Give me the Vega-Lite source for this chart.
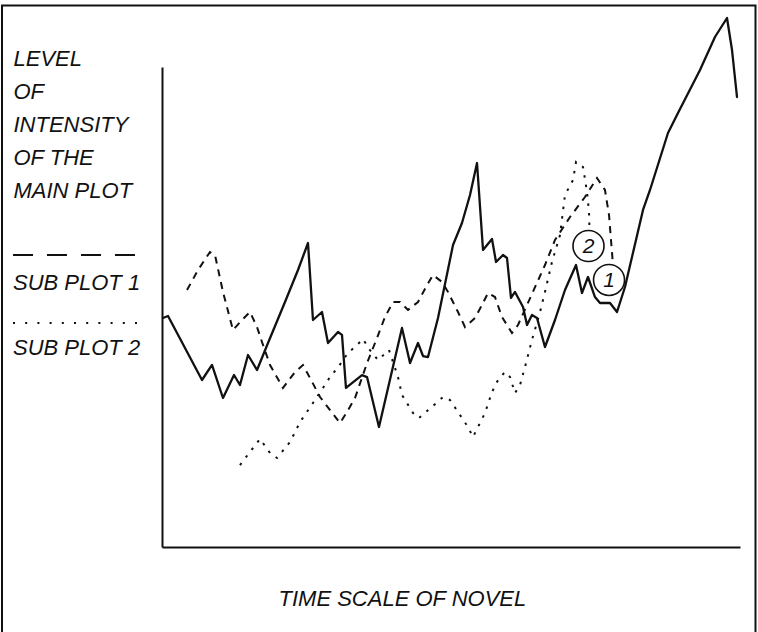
{
  "$schema": "https://vega.github.io/schema/vega-lite/v6.json",
  "width": 578,
  "height": 480,
  "autosize": "none",
  "padding": {"left": 162, "top": 67, "right": 18, "bottom": 85},
  "background": "white",
  "config": {
    "view": {"stroke": null},
    "font": "Liberation Sans",
    "axis": {
      "domainColor": "#111",
      "domainWidth": 2,
      "ticks": false,
      "labels": false,
      "grid": false,
      "titleFont": "Liberation Sans",
      "titleFontStyle": "italic",
      "titleFontWeight": "normal",
      "titleFontSize": 22,
      "titleColor": "#111",
      "titleLimit": 1000
    },
    "axisX": {"titleX": 116, "titleY": 58, "titleAlign": "left", "titleBaseline": "alphabetic", "titleAngle": 0},
    "axisY": {"titleX": -149, "titleY": -2, "titleAlign": "left", "titleBaseline": "alphabetic", "titleAngle": 0, "titleLineHeight": 33}
  },
  "datasets": {
    "main": [
      {"t": 0.17, "v": 47.71}, {"t": 1.04, "v": 48.13}, {"t": 6.92, "v": 34.79}, {"t": 8.65, "v": 37.92},
      {"t": 10.55, "v": 31.04}, {"t": 12.46, "v": 35.83}, {"t": 13.49, "v": 33.75}, {"t": 14.88, "v": 40.0},
      {"t": 16.44, "v": 36.88}, {"t": 18.34, "v": 42.5}, {"t": 21.28, "v": 51.04}, {"t": 23.53, "v": 57.71},
      {"t": 25.26, "v": 63.33}, {"t": 26.12, "v": 47.29}, {"t": 27.68, "v": 48.96}, {"t": 28.72, "v": 42.5},
      {"t": 30.45, "v": 44.79}, {"t": 31.14, "v": 44.2}, {"t": 31.83, "v": 33.13}, {"t": 34.6, "v": 35.8}, {"t": 35.47, "v": 35.4},
      {"t": 37.54, "v": 25.0}, {"t": 41.52, "v": 45.63}, {"t": 42.91, "v": 38.33}, {"t": 44.29, "v": 42.5},
      {"t": 45.16, "v": 39.79}, {"t": 46.02, "v": 39.58}, {"t": 47.75, "v": 47.71}, {"t": 50.35, "v": 62.92},
      {"t": 51.9, "v": 67.5}, {"t": 53.29, "v": 73.33}, {"t": 54.5, "v": 80.0}, {"t": 55.54, "v": 61.88},
      {"t": 57.09, "v": 64.17}, {"t": 57.79, "v": 59.38}, {"t": 59.0, "v": 60.83}, {"t": 59.69, "v": 60.21},
      {"t": 60.38, "v": 51.88}, {"t": 61.07, "v": 53.13}, {"t": 62.46, "v": 50.0}, {"t": 63.15, "v": 46.25},
      {"t": 64.01, "v": 48.33}, {"t": 64.88, "v": 47.71}, {"t": 66.26, "v": 41.67}, {"t": 67.99, "v": 47.29},
      {"t": 69.72, "v": 53.54}, {"t": 71.63, "v": 58.75}, {"t": 72.66, "v": 52.92}, {"t": 73.7, "v": 56.25},
      {"t": 74.91, "v": 52.08}, {"t": 75.78, "v": 50.83}, {"t": 77.51, "v": 50.83}, {"t": 78.72, "v": 48.96},
      {"t": 80.1, "v": 54.17}, {"t": 83.22, "v": 70.21}, {"t": 84.43, "v": 74.38}, {"t": 87.54, "v": 86.25},
      {"t": 89.27, "v": 90.42}, {"t": 93.08, "v": 99.38}, {"t": 95.67, "v": 106.25}, {"t": 97.75, "v": 110.21},
      {"t": 98.62, "v": 103.54}, {"t": 99.48, "v": 93.75}
    ],
    "sub1": [
      {"t": 4.33, "v": 53.54}, {"t": 6.23, "v": 57.71}, {"t": 8.3, "v": 61.46}, {"t": 9.17, "v": 60.83},
      {"t": 10.55, "v": 53.13}, {"t": 12.28, "v": 45.21}, {"t": 13.84, "v": 47.29}, {"t": 15.22, "v": 48.96},
      {"t": 16.44, "v": 45.83}, {"t": 17.3, "v": 42.71}, {"t": 18.69, "v": 37.92}, {"t": 20.93, "v": 33.13},
      {"t": 23.01, "v": 36.46}, {"t": 24.39, "v": 37.92}, {"t": 25.61, "v": 35.21}, {"t": 27.34, "v": 31.25},
      {"t": 30.8, "v": 25.83}, {"t": 32.01, "v": 28.13}, {"t": 33.39, "v": 31.04}, {"t": 35.47, "v": 38.33},
      {"t": 37.2, "v": 43.54}, {"t": 38.58, "v": 47.92}, {"t": 39.97, "v": 51.04}, {"t": 41.18, "v": 51.04},
      {"t": 42.56, "v": 49.38}, {"t": 44.29, "v": 51.04}, {"t": 45.85, "v": 54.58}, {"t": 46.89, "v": 56.67},
      {"t": 48.44, "v": 55.21}, {"t": 49.48, "v": 53.13}, {"t": 51.21, "v": 48.96}, {"t": 52.42, "v": 45.83},
      {"t": 54.15, "v": 47.71}, {"t": 55.36, "v": 50.42}, {"t": 56.4, "v": 52.92}, {"t": 57.61, "v": 52.08},
      {"t": 58.82, "v": 47.92}, {"t": 60.55, "v": 44.58}, {"t": 61.59, "v": 46.25}, {"t": 63.15, "v": 50.42},
      {"t": 66.26, "v": 58.75}, {"t": 67.99, "v": 63.96}, {"t": 70.59, "v": 68.75}, {"t": 73.18, "v": 72.92},
      {"t": 75.26, "v": 76.88}, {"t": 76.64, "v": 74.38}, {"t": 77.34, "v": 69.17}, {"t": 77.68, "v": 63.96},
      {"t": 78.03, "v": 58.75}
    ],
    "sub2": [
      {"t": 13.49, "v": 17.08}, {"t": 15.22, "v": 19.79}, {"t": 16.96, "v": 22.5}, {"t": 18.69, "v": 19.58},
      {"t": 19.9, "v": 18.54}, {"t": 22.15, "v": 21.88}, {"t": 23.88, "v": 26.04}, {"t": 26.12, "v": 30.0},
      {"t": 27.85, "v": 33.13}, {"t": 29.07, "v": 35.42}, {"t": 30.62, "v": 37.71}, {"t": 32.18, "v": 40.42},
      {"t": 33.56, "v": 41.88}, {"t": 34.78, "v": 43.33}, {"t": 35.81, "v": 41.25}, {"t": 37.37, "v": 38.96},
      {"t": 39.27, "v": 41.04}, {"t": 40.83, "v": 35.42}, {"t": 41.52, "v": 31.67}, {"t": 43.43, "v": 27.92},
      {"t": 44.46, "v": 26.88}, {"t": 47.06, "v": 29.58}, {"t": 48.62, "v": 31.25}, {"t": 49.83, "v": 30.63},
      {"t": 51.21, "v": 28.13}, {"t": 52.94, "v": 25.0}, {"t": 53.81, "v": 22.92}, {"t": 54.84, "v": 25.42},
      {"t": 55.88, "v": 27.92}, {"t": 57.09, "v": 32.29}, {"t": 58.13, "v": 34.79}, {"t": 59.34, "v": 36.46},
      {"t": 60.21, "v": 35.42}, {"t": 61.07, "v": 32.08}, {"t": 61.94, "v": 33.75}, {"t": 62.8, "v": 37.5},
      {"t": 64.01, "v": 43.13}, {"t": 65.4, "v": 48.96}, {"t": 66.26, "v": 53.13}, {"t": 67.47, "v": 59.38},
      {"t": 68.86, "v": 65.0}, {"t": 69.72, "v": 73.33}, {"t": 71.11, "v": 76.46}, {"t": 71.63, "v": 80.21},
      {"t": 72.84, "v": 79.17}, {"t": 73.53, "v": 73.96}, {"t": 73.88, "v": 69.79}, {"t": 73.95, "v": 66.46}
    ],
    "markers": [
      {"label": "2", "t": 73.79, "v": 62.71},
      {"label": "1", "t": 77.34, "v": 55.63}
    ],
    "one": [{}]
  },
  "layer": [
    {
      "data": {"name": "one"},
      "mark": {"type": "rect", "fill": null, "filled": false, "stroke": "#111", "strokeWidth": 2},
      "encoding": {
        "x": {"datum": -27.68, "type": "quantitative", "scale": {"domain": [0, 100], "nice": false, "zero": false}, "axis": {"title": "TIME SCALE OF NOVEL"}},
        "x2": {"datum": 102.68},
        "y": {"datum": 112.81, "type": "quantitative", "scale": {"domain": [0, 100], "nice": false, "zero": false}, "axis": {"title": ["LEVEL", "OF", "INTENSITY", "OF THE", "MAIN PLOT"]}},
        "y2": {"datum": -20}
      }
    },
    {
      "data": {"name": "sub2"},
      "mark": {"type": "line", "color": "#111", "strokeWidth": 2, "strokeDash": [2.5, 7]},
      "encoding": {
        "x": {"field": "t", "type": "quantitative", "scale": {"domain": [0, 100], "nice": false, "zero": false}, "axis": {"title": "TIME SCALE OF NOVEL"}},
        "y": {"field": "v", "type": "quantitative", "scale": {"domain": [0, 100], "nice": false, "zero": false}, "axis": {"title": ["LEVEL", "OF", "INTENSITY", "OF THE", "MAIN PLOT"]}}
      }
    },
    {
      "data": {"name": "sub1"},
      "mark": {"type": "line", "color": "#111", "strokeWidth": 2, "strokeDash": [7, 6]},
      "encoding": {
        "x": {"field": "t", "type": "quantitative", "scale": {"domain": [0, 100], "nice": false, "zero": false}, "axis": {"title": "TIME SCALE OF NOVEL"}},
        "y": {"field": "v", "type": "quantitative", "scale": {"domain": [0, 100], "nice": false, "zero": false}, "axis": {"title": ["LEVEL", "OF", "INTENSITY", "OF THE", "MAIN PLOT"]}}
      }
    },
    {
      "data": {"name": "main"},
      "mark": {"type": "line", "color": "#111", "strokeWidth": 2.3, "strokeJoin": "round", "strokeCap": "round"},
      "encoding": {
        "x": {"field": "t", "type": "quantitative", "scale": {"domain": [0, 100], "nice": false, "zero": false}, "axis": {"title": "TIME SCALE OF NOVEL"}},
        "y": {"field": "v", "type": "quantitative", "scale": {"domain": [0, 100], "nice": false, "zero": false}, "axis": {"title": ["LEVEL", "OF", "INTENSITY", "OF THE", "MAIN PLOT"]}}
      }
    },
    {
      "data": {"name": "markers"},
      "mark": {"type": "point", "shape": "circle", "size": 961, "filled": true, "fill": "white", "stroke": "#111", "strokeWidth": 1.6, "opacity": 1},
      "encoding": {
        "x": {"field": "t", "type": "quantitative", "scale": {"domain": [0, 100], "nice": false, "zero": false}, "axis": {"title": "TIME SCALE OF NOVEL"}},
        "y": {"field": "v", "type": "quantitative", "scale": {"domain": [0, 100], "nice": false, "zero": false}, "axis": {"title": ["LEVEL", "OF", "INTENSITY", "OF THE", "MAIN PLOT"]}}
      }
    },
    {
      "data": {"name": "markers"},
      "mark": {"type": "text", "font": "Liberation Sans", "fontStyle": "italic", "fontSize": 21, "color": "#111", "align": "center", "baseline": "middle", "dy": 1},
      "encoding": {
        "x": {"field": "t", "type": "quantitative", "scale": {"domain": [0, 100], "nice": false, "zero": false}, "axis": {"title": "TIME SCALE OF NOVEL"}},
        "y": {"field": "v", "type": "quantitative", "scale": {"domain": [0, 100], "nice": false, "zero": false}, "axis": {"title": ["LEVEL", "OF", "INTENSITY", "OF THE", "MAIN PLOT"]}},
        "text": {"field": "label"}
      }
    },
    {
      "data": {"name": "one"},
      "mark": {"type": "rule", "color": "#111", "strokeWidth": 1.8, "strokeDash": [20, 14]},
      "encoding": {
        "x": {"datum": -25.78, "type": "quantitative", "scale": {"domain": [0, 100], "nice": false, "zero": false}, "axis": {"title": "TIME SCALE OF NOVEL"}},
        "x2": {"datum": -4.67},
        "y": {"datum": 60.83, "type": "quantitative", "scale": {"domain": [0, 100], "nice": false, "zero": false}, "axis": {"title": ["LEVEL", "OF", "INTENSITY", "OF THE", "MAIN PLOT"]}}
      }
    },
    {
      "data": {"name": "one"},
      "mark": {"type": "rule", "color": "#111", "strokeWidth": 2, "strokeDash": [2, 10.2]},
      "encoding": {
        "x": {"datum": -25.78, "type": "quantitative", "scale": {"domain": [0, 100], "nice": false, "zero": false}, "axis": {"title": "TIME SCALE OF NOVEL"}},
        "x2": {"datum": -4.3},
        "y": {"datum": 46.67, "type": "quantitative", "scale": {"domain": [0, 100], "nice": false, "zero": false}, "axis": {"title": ["LEVEL", "OF", "INTENSITY", "OF THE", "MAIN PLOT"]}}
      }
    },
    {
      "data": {"name": "one"},
      "mark": {"type": "text", "text": "SUB PLOT 1", "font": "Liberation Sans", "fontStyle": "italic", "fontSize": 22, "color": "#111", "align": "left", "baseline": "alphabetic"},
      "encoding": {
        "x": {"datum": -25.78, "type": "quantitative", "scale": {"domain": [0, 100], "nice": false, "zero": false}, "axis": {"title": "TIME SCALE OF NOVEL"}},
        "y": {"datum": 53.54, "type": "quantitative", "scale": {"domain": [0, 100], "nice": false, "zero": false}, "axis": {"title": ["LEVEL", "OF", "INTENSITY", "OF THE", "MAIN PLOT"]}}
      }
    },
    {
      "data": {"name": "one"},
      "mark": {"type": "text", "text": "SUB PLOT 2", "font": "Liberation Sans", "fontStyle": "italic", "fontSize": 22, "color": "#111", "align": "left", "baseline": "alphabetic"},
      "encoding": {
        "x": {"datum": -25.78, "type": "quantitative", "scale": {"domain": [0, 100], "nice": false, "zero": false}, "axis": {"title": "TIME SCALE OF NOVEL"}},
        "y": {"datum": 40.0, "type": "quantitative", "scale": {"domain": [0, 100], "nice": false, "zero": false}, "axis": {"title": ["LEVEL", "OF", "INTENSITY", "OF THE", "MAIN PLOT"]}}
      }
    }
  ]
}
